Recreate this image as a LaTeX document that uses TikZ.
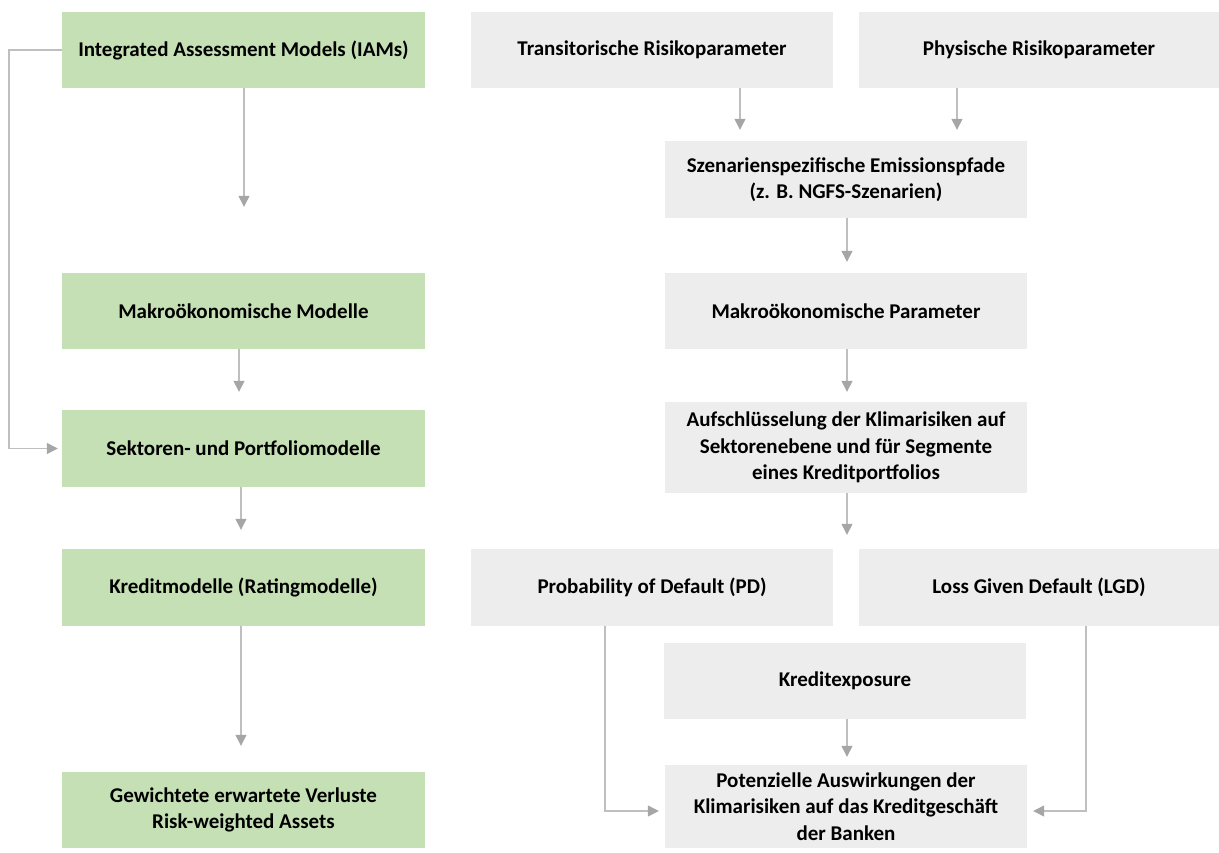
\documentclass[tikz,border=0pt]{standalone}
\usepackage{fontspec}
\setmainfont{Carlito}
\usetikzlibrary{arrows.meta}
\definecolor{boxgreen}{HTML}{C5E0B4}
\definecolor{boxgray}{HTML}{EDEDED}
\definecolor{linegray}{HTML}{BFBFBF}
\definecolor{headgray}{HTML}{A6A6A6}
\tikzset{
  gbox/.style={fill=boxgreen, draw=none, minimum width=363pt, minimum height=76pt, inner sep=0pt, align=center, font=\bfseries\fontsize{21}{26.5}\selectfont},
  rbox/.style={fill=boxgray, draw=none, minimum width=362pt, minimum height=77pt, inner sep=0pt, align=center, font=\bfseries\fontsize{21}{26.5}\selectfont},
  arr/.style={draw=linegray, line width=1.3pt, -{Triangle[width=11pt,length=11pt,color=headgray]}},
}
\begin{document}
\begin{tikzpicture}[x=1pt,y=-1pt]
\useasboundingbox (0,0) rectangle (1219,852);
% left column
\node[gbox] (iam) at (243.5,50) {Integrated Assessment Models (IAMs)};
\node[gbox] (mm) at (243.5,311) {Makroökonomische Modelle};
\node[gbox, minimum height=77pt] (sek) at (243.5,448.5) {Sektoren- und Portfoliomodelle};
\node[gbox, minimum height=77pt] (krm) at (243.5,587.5) {Kreditmodelle (Ratingmodelle)};
\node[gbox] (gew) at (243.5,810) {Gewichtete erwartete Verluste\\Risk-weighted Assets};
% right column
\node[rbox, minimum height=76pt] (trans) at (652,50) {Transitorische Risikoparameter};
\node[rbox, minimum width=360pt, minimum height=76pt] (phys) at (1039,50) {Physische Risikoparameter};
\node[rbox] (szen) at (846,179.5) {Szenarienspezifische Emissionspfade\\(z. B. NGFS-Szenarien)};
\node[rbox, minimum height=76pt] (mp) at (846,311) {Makroökonomische Parameter};
\node[rbox, minimum height=91pt] (auf) at (846,447.5) {Aufschlüsselung der Klimarisiken auf\\Sektorenebene und für Segmente\\eines Kreditportfolios};
\node[rbox] (pd) at (652,587.5) {Probability of Default (PD)};
\node[rbox, minimum width=360pt] (lgd) at (1039,587.5) {Loss Given Default (LGD)};
\node[rbox, minimum height=76pt] (kre) at (845,681) {Kreditexposure};
\node[rbox, minimum height=83pt] (pot) at (846,806.5) {Potenzielle Auswirkungen der\\Klimarisiken auf das Kreditgeschäft\\der Banken};
% coordinates for arrow columns
\coordinate (xa) at (244,0);
\coordinate (xb) at (239,0);
\coordinate (xc) at (241,0);
\coordinate (xt) at (740,0);
\coordinate (xp) at (957,0);
\coordinate (xr) at (847,0);
\coordinate (xl) at (9,0);
\coordinate (xpd) at (605,0);
\coordinate (xlgd) at (1086,0);
\coordinate (ym) at (0,811);
% arrows left
\draw[arr, shorten >=66pt] (iam.south -| xa) -- (mm.north -| xa);
\draw[arr, shorten >=18pt] (mm.south -| xb) -- (sek.north -| xb);
\draw[arr, shorten >=19pt] (sek.south -| xc) -- (krm.north -| xc);
\draw[arr, shorten >=26pt] (krm.south -| xc) -- (gew.north -| xc);
\draw[arr, shorten >=4pt] (iam.west) -- (iam.west -| xl) -- (sek.west -| xl) -- (sek.west);
% arrows right
\draw[arr, shorten >=11pt] (trans.south -| xt) -- (szen.north -| xt);
\draw[arr, shorten >=11pt] (phys.south -| xp) -- (szen.north -| xp);
\draw[arr, shorten >=11pt] (szen.south -| xr) -- (mp.north -| xr);
\draw[arr, shorten >=10pt] (mp.south -| xr) -- (auf.north -| xr);
\draw[arr, shorten >=14pt] (auf.south -| xr) -- (pd.north -| xr);
\draw[arr, shorten >=8pt] (kre.south -| xr) -- (pot.north -| xr);
\draw[arr, shorten >=6pt] (pd.south -| xpd) -- (ym -| xpd) -- (ym -| pot.west);
\draw[arr, shorten >=6pt] (lgd.south -| xlgd) -- (ym -| xlgd) -- (ym -| pot.east);
\end{tikzpicture}
\end{document}
